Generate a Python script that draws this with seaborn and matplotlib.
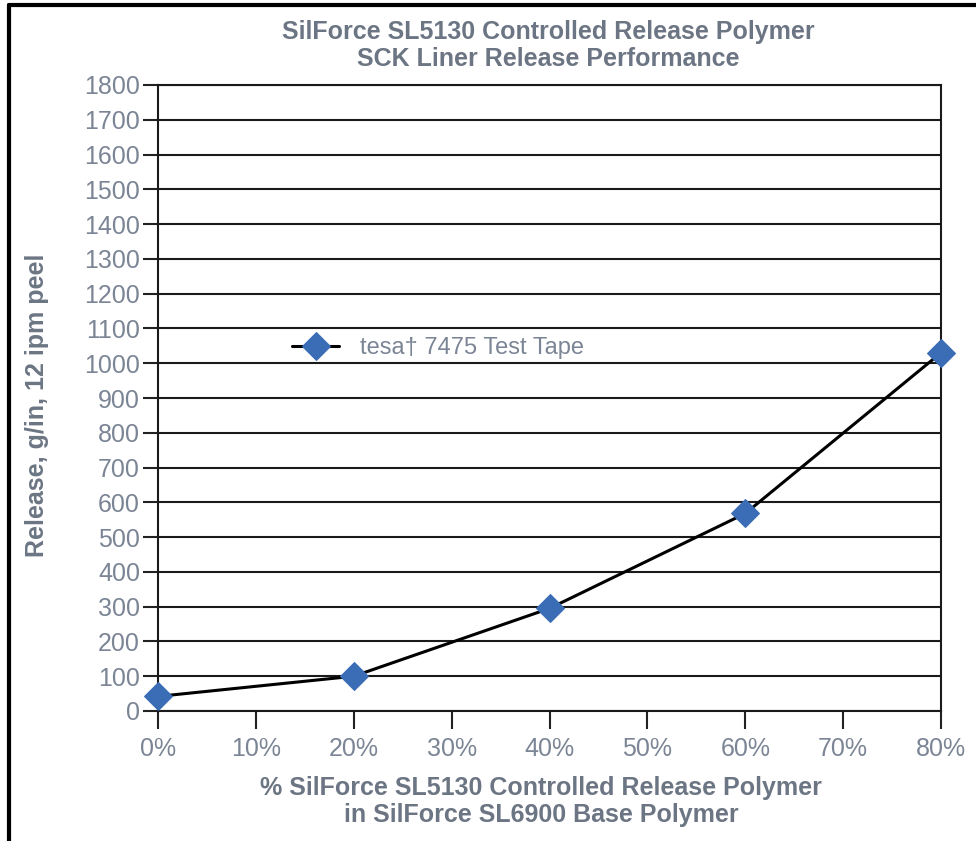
import matplotlib
matplotlib.use("Agg")
import matplotlib.pyplot as plt
from matplotlib.lines import Line2D
from matplotlib.ticker import FixedLocator, FuncFormatter
import seaborn as sns
import pandas as pd

# ---- data ----
pct_polymer = [0, 20, 40, 60, 80]
release = [42, 100, 295, 568, 1030]
series_name = "tesa\u2020 7475 Test Tape"
x_ticks = [0, 10, 20, 30, 40, 50, 60, 70, 80]
y_ticks = list(range(0, 1900, 100))
title_lines = ["SilForce SL5130 Controlled Release Polymer", "SCK Liner Release Performance"]
x_label_lines = ["% SilForce SL5130 Controlled Release Polymer", "in SilForce SL6900 Base Polymer"]
y_label = "Release, g/in, 12 ipm peel"

df = pd.DataFrame({"pct": pct_polymer, "release": release, "series": series_name})

sns.set_style("white")
plt.rcParams['font.family'] = ['Liberation Sans', 'DejaVu Sans']

TXT = '#7b8595'
TXT_B = '#6c7583'
BLUE = '#3a6db5'

fig = plt.figure(figsize=(9.76, 8.41), dpi=100)
ax = fig.add_axes([158/976, 1-711/841, (941-158)/976, (711-85)/841])

sns.lineplot(data=df, x="pct", y="release", hue="series", palette=['black'],
             marker='D', markersize=14, markerfacecolor=BLUE, markeredgecolor=BLUE,
             linewidth=2.2, ax=ax, legend=True, clip_on=False, zorder=5)

ax.set_xlim(0, 80)
ax.set_ylim(0, 1800)
ax.xaxis.set_major_locator(FixedLocator(x_ticks))
ax.yaxis.set_major_locator(FixedLocator(y_ticks))
ax.xaxis.set_major_formatter(FuncFormatter(lambda v, p: f"{int(v)}%"))
ax.yaxis.set_major_formatter(FuncFormatter(lambda v, p: f"{int(v)}"))
ax.tick_params(axis='x', direction='out', length=13, width=1.5, color='#222222',
               labelsize=18, labelcolor=TXT, pad=6, bottom=True)
ax.tick_params(axis='y', direction='out', length=11, width=1.5, color='#222222',
               labelsize=18, labelcolor=TXT, pad=2, left=True)
ax.grid(axis='y', color='#1a1a1a', linewidth=1.5)
ax.grid(axis='x', visible=False)
ax.set_axisbelow(True)
for s in ax.spines.values():
    s.set_visible(True)
    s.set_color('#1a1a1a')
    s.set_linewidth(1.5)

ax.set_xlabel("")
ax.set_ylabel("")

# titles and labels
fig.text(548/976, 1-32/841, title_lines[0], ha='center', va='center', fontsize=18,
         fontweight='bold', color=TXT_B)
fig.text(548/976, 1-59/841, title_lines[1], ha='center', va='center', fontsize=18,
         fontweight='bold', color=TXT_B)
fig.text(541/976, 1-788/841, x_label_lines[0], ha='center', va='center', fontsize=18,
         fontweight='bold', color=TXT_B)
fig.text(541/976, 1-815/841, x_label_lines[1], ha='center', va='center', fontsize=18,
         fontweight='bold', color=TXT_B)
fig.text(37/976, 1-405/841, y_label, ha='center', va='center', rotation=90, fontsize=18,
         fontweight='bold', color=TXT_B)

leg = ax.legend(loc='center left', bbox_to_anchor=((292-158)/783, (711-348)/626),
                frameon=False, fontsize=17, handlelength=2.0, handletextpad=0.9,
                borderaxespad=0, borderpad=0)
for t in leg.get_texts():
    t.set_color(TXT)

# outer frame (left & top)
fig.add_artist(Line2D([9/976, 9/976], [0, 1-5/841], transform=fig.transFigure,
                      color='black', linewidth=3))
fig.add_artist(Line2D([9/976, 1], [1-5/841, 1-5/841], transform=fig.transFigure,
                      color='black', linewidth=3))

fig.savefig("out.png", dpi=100)
